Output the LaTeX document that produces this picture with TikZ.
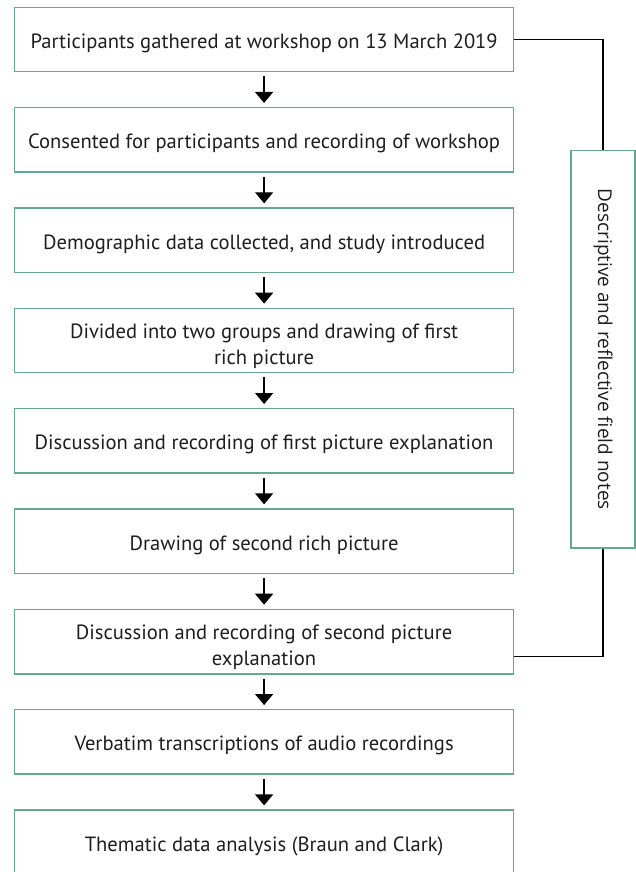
\documentclass[tikz,border=0pt]{standalone}
\usepackage{fontspec}
\setmainfont{PT Sans}
\newfontfamily\descfont{Open Sans}
\usetikzlibrary{arrows.meta}
\definecolor{boxgreen}{RGB}{100,168,148}
\definecolor{txt}{RGB}{30,30,30}
\newcommand{\toprl}{\rule{0pt}{27pt}}
\tikzset{
  stepbox/.style={draw=boxgreen, line width=1.4pt, minimum width=499pt, minimum height=64.4pt,
    inner sep=0pt, align=center, text=txt, font=\fontsize{20.6}{26.3}\selectfont,
    execute at begin node={\rule{0pt}{23.1pt}},
    execute at end node={\rule[-5.5pt]{0pt}{0pt}}},
  flowarrow/.style={line width=1.3pt, -{Triangle[width=18pt,length=11pt]}},
  link/.style={line width=1.3pt, black}
}
\begin{document}
\begin{tikzpicture}[x=1pt,y=-1pt]
\useasboundingbox (0,0) rectangle (636,872);
\node[stepbox] (b1) at (264.1,39.5) {Participants gathered at workshop on 13 March 2019};
\node[stepbox] (b2) at (264.1,139.85) {Consented for participants and recording of workshop};
\node[stepbox] (b3) at (264.1,240.2) {Demographic data collected, and study introduced};
\node[stepbox] (b4) at (264.1,340.55) {\toprl Divided into two groups and drawing of first\\rich picture};
\node[stepbox] (b5) at (264.1,440.9) {Discussion and recording of first picture explanation};
\node[stepbox] (b6) at (264.1,541.25) {Drawing of second rich picture};
\node[stepbox] (b7) at (264.1,641.6) {\toprl Discussion and recording of second picture\\explanation};
\node[stepbox] (b8) at (264.1,741.95) {Verbatim transcriptions of audio recordings};
\node[stepbox] (b9) at (264.1,842.3) {Thematic data analysis (Braun and Clark)};
\node[draw=boxgreen, line width=1.4pt, minimum width=397.3pt, minimum height=64pt, inner sep=0pt,
  rotate=-90, text=txt, font=\descfont\fontsize{19}{22}\selectfont] (d) at (603,349.35)
  {Descriptive and reflective field notes};
\foreach \a/\b in {b1/b2,b2/b3,b3/b4,b4/b5,b5/b6,b6/b7,b7/b8,b8/b9}{
  \draw[flowarrow] ([yshift=-4pt]\a.south) -- ([yshift=4pt]\b.north);
}
\draw[link] (b1.east) -| (d.west);
\draw[link] (d.east) |- ([yshift=-15pt]b7.east);
\end{tikzpicture}
\end{document}
